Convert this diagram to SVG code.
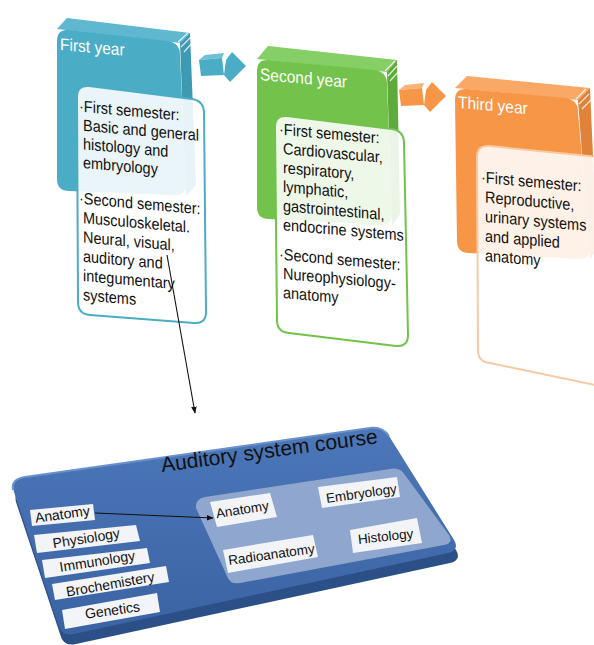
<svg xmlns="http://www.w3.org/2000/svg" width="594" height="645" viewBox="0 0 594 645">
<defs>
<style>
.yr{font-family:"Liberation Sans",Arial,sans-serif;font-size:15.5px;fill:#fff}
.ct{font-family:"Liberation Sans",Arial,sans-serif;font-size:14.5px;fill:#111}
.lb{font-family:"Liberation Sans",Arial,sans-serif;font-size:14px;fill:#111;text-anchor:middle}
.lbr{font-family:"Liberation Sans",Arial,sans-serif;font-size:13.5px;fill:#111;text-anchor:middle}
.ttl{font-family:"Liberation Sans",Arial,sans-serif;font-size:21px;fill:#111}
.box{fill:#f2f4f8}
.card{fill:#fff;fill-opacity:0.88;stroke-width:2}
.pg{stroke:#fff;stroke-width:1.2;fill:none;opacity:0.8}
.conn{stroke:#111;stroke-width:1.1;fill:none;marker-end:url(#ah)}
</style>
<marker id="ah" viewBox="0 0 10 10" refX="9" refY="5" markerWidth="7" markerHeight="7" orient="auto" markerUnits="userSpaceOnUse">
<path d="M0,1 L10,5 L0,9 Z" fill="#111"/>
</marker>
<linearGradient id="slab" x1="0" y1="0" x2="0" y2="1">
<stop offset="0" stop-color="#4c77b8"/>
<stop offset="1" stop-color="#3a63a3"/>
</linearGradient>
</defs>

<g id="year1">
<path d="M57,29 L67,18 L190,33 L180,43 Z" fill="#5fb8cf"/>
<path d="M180,43 L190,33 L196,185 L186,196 Z" fill="#3e9ab3"/>
<path d="M57,41 Q57,29 69,30 L168,41 Q180,43 180,55 L186,184 Q186,196 174,195 L69,191 Q57,191 57,179 Z" fill="#4bacc6"/>
<path class="pg" d="M178,42 L188,33 M181,47 L191,37 M184,52 L193,42"/>
<text class="yr" transform="translate(60,50) skewY(5) scale(1,1.1)">First year</text>
<path class="card" stroke="#4bacc6" d="M77,97 Q77,85 89,86 L192,99 Q204,101 204,113 L206,312 Q206,324 194,323 L90,315 Q78,314 78,302 Z"/>
<text class="ct" transform="translate(83,112) skewY(5) scale(1,1.12)"><tspan x="-4" y="0">·First semester:</tspan><tspan x="0" dy="16.7">Basic and general</tspan><tspan x="0" dy="16.7">histology and</tspan><tspan x="0" dy="16.7">embryology</tspan></text>
<text class="ct" transform="translate(83,204) skewY(5) scale(1,1.12)"><tspan x="-4" y="0">·Second semester:</tspan><tspan x="0" dy="17.2">Musculoskeletal.</tspan><tspan x="0" dy="17.2">Neural, visual,</tspan><tspan x="0" dy="17.2">auditory and</tspan><tspan x="0" dy="17.2">integumentary</tspan><tspan x="0" dy="17.2">systems</tspan></text>
</g>

<g id="year2">
<path d="M257,59 L268,46 L397,60 L387,72 Z" fill="#86cf66"/>
<path d="M387,72 L397,60 L400,214 L392,226 Z" fill="#5eaa3a"/>
<path d="M257,71 Q257,59 269,60 L375,70 Q387,72 387,84 L392,214 Q392,226 380,225 L269,219 Q257,219 257,207 Z" fill="#72c24b"/>
<path class="pg" d="M385,71 L395,61 M388,76 L397,66 M390,81 L399,71"/>
<text class="yr" transform="translate(260,80) skewY(5) scale(1,1.1)">Second year</text>
<path class="card" stroke="#72c24b" d="M275,127 Q275,115 287,116 L392,129 Q404,131 404,143 L408,335 Q408,347 396,346 L289,333 Q277,332 277,320 Z"/>
<text class="ct" transform="translate(283,135) skewY(5) scale(1,1.12)"><tspan x="-4" y="0">·First semester:</tspan><tspan x="0" dy="17">Cardiovascular,</tspan><tspan x="0" dy="17">respiratory,</tspan><tspan x="0" dy="17">lymphatic,</tspan><tspan x="0" dy="17">gastrointestinal,</tspan><tspan x="0" dy="17">endocrine systems</tspan></text>
<text class="ct" transform="translate(283,260) skewY(5) scale(1,1.12)"><tspan x="-4" y="0">·Second semester:</tspan><tspan x="0" dy="17">Nureophysiology-</tspan><tspan x="0" dy="17">anatomy</tspan></text>
</g>

<g id="year3">
<path d="M455,88 L467,76 L590,88 L578,100 Z" fill="#f9a866"/>
<path d="M578,100 L590,88 L597,248 L590,260 Z" fill="#e0823a"/>
<path d="M455,100 Q455,88 467,89 L566,98 Q578,100 578,112 L590,248 Q590,260 578,259 L469,253 Q457,253 457,241 Z" fill="#f79646"/>
<path class="pg" d="M576,99 L586,89 M579,104 L589,94 M582,109 L592,99"/>
<text class="yr" transform="translate(458,108) skewY(5) scale(1,1.1)">Third year</text>
<path class="card" stroke="#f8c9a2" d="M477,157 Q477,145 489,146 L600,157 Q612,158 612,170 L612,375 Q612,387 600,386 L490,363 Q478,362 478,350 Z"/>
<text class="ct" transform="translate(485,183) skewY(5) scale(1,1.12)"><tspan x="-4" y="0">·First semester:</tspan><tspan x="0" dy="17.4">Reproductive,</tspan><tspan x="0" dy="17.4">urinary systems</tspan><tspan x="0" dy="17.4">and applied</tspan><tspan x="0" dy="17.4">anatomy</tspan></text>
</g>

<g id="course">
<path d="M14,492 Q11,479 25,477 L370,428 Q382,426 389,436 L454,540 Q460,550 448,553 L74,634 Q61,637 58,624 Z" fill="#2b4f87" transform="translate(2,10)"/>
<path d="M14,492 Q11,479 25,477 L370,428 Q382,426 389,436 L454,540 Q460,550 448,553 L74,634 Q61,637 58,624 Z" fill="url(#slab)"/>
<path d="M13,490 Q11,479 25,477 L370,428 Q382,426 389,436" fill="none" stroke="#6a91cc" stroke-width="2"/>
<text class="ttl" transform="rotate(-7.6 162 472)" x="162" y="472">Auditory system course</text>
<path d="M196,508 Q195,499 205,497 L390,469 Q400,467 405,475 L449,535 Q454,543 444,545 L240,583 Q230,585 227,576 Z" fill="#8fa6cf"/>
</g>

<g id="l-anatomy"><polygon class="box" points="30,510 93,504 95,520 32,526"/><text class="lb" transform="rotate(-8 63 519)" x="63" y="519">Anatomy</text></g>
<g id="l-physiology"><polygon class="box" points="34,535 136,525 140,541 37,553"/><text class="lb" transform="rotate(-9 87 543)" x="87" y="543">Physiology</text></g>
<g id="l-immunology"><polygon class="box" points="42,560 147,548 150,563 45,578"/><text class="lb" transform="rotate(-9 98 566)" x="98" y="566">Immunology</text></g>
<g id="l-brochemistery"><polygon class="box" points="52,584 166,566 169,582 55,600"/><text class="lb" transform="rotate(-10 111 589)" x="111" y="589">Brochemistery</text></g>
<g id="l-genetics"><polygon class="box" points="62,610 157,593 160,612 65,629"/><text class="lb" transform="rotate(-8 113 615)" x="113" y="615">Genetics</text></g>

<g id="r-anatomy"><polygon class="box" points="210,502 270,493 277,517 217,527"/><text class="lbr" transform="rotate(-9 243 514)" x="243" y="514">Anatomy</text></g>
<g id="r-embryology"><polygon class="box" points="318,487 397,477 400,497 322,508"/><text class="lbr" transform="rotate(-8 362 498)" x="362" y="498">Embryology</text></g>
<g id="r-radioanatomy"><polygon class="box" points="223,550 313,535 318,557 228,573"/><text class="lbr" transform="rotate(-8 272 559)" x="272" y="559">Radioanatomy</text></g>
<g id="r-histology"><polygon class="box" points="350,530 417,518 422,543 353,553"/><text class="lbr" transform="rotate(-6 386 541)" x="386" y="541">Histology</text></g>

<g id="connectors">
<path d="M199,60 L205,55 L224,53 L222,58 Z" fill="#6fc0d6"/>
<path d="M199,60 L222,58 L224,75 L201,76 Z" fill="#4bacc6"/>
<path d="M226,60 L232,52 L246,66 L230,82 L224,75 Z" fill="#4bacc6"/>
<path d="M399,90 L405,85 L424,83 L422,88 Z" fill="#f9b27a"/>
<path d="M399,90 L422,88 L424,105 L401,106 Z" fill="#f79646"/>
<path d="M426,90 L432,82 L446,96 L430,112 L424,105 Z" fill="#f79646"/>
<path class="conn" d="M167,255 L195,413"/>
<path class="conn" d="M95,513 L213,518"/>
</g>
</svg>
